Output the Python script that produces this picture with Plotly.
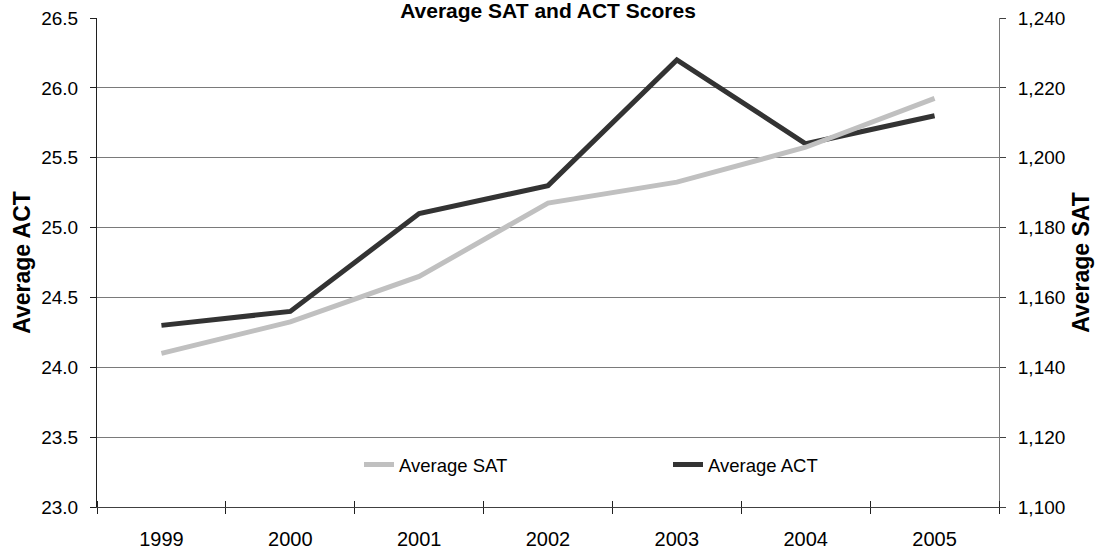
import plotly.graph_objects as go

years = ["1999", "2000", "2001", "2002", "2003", "2004", "2005"]
sat_values = [1144, 1153, 1166, 1187, 1193, 1203, 1217]
act_values = [24.3, 24.4, 25.1, 25.3, 26.2, 25.6, 25.8]
act_ticks = [23.0, 23.5, 24.0, 24.5, 25.0, 25.5, 26.0, 26.5]
sat_ticks = [1100, 1120, 1140, 1160, 1180, 1200, 1220, 1240]

FONT = "Liberation Sans, Arial, sans-serif"

fig = go.Figure()
fig.add_trace(go.Scatter(
    x=years, y=sat_values, name="Average SAT", mode="lines",
    line=dict(color="#c0c0c0", width=5), yaxis="y2",
))
fig.add_trace(go.Scatter(
    x=years, y=act_values, name="Average ACT", mode="lines",
    line=dict(color="#333333", width=5), yaxis="y",
))
# invisible helper so the overlay axis (upper half of the crossing ticks) is drawn
fig.add_trace(go.Scatter(
    x=years, y=act_values, xaxis="x2", yaxis="y", mode="none",
    showlegend=False, hoverinfo="skip",
))

fig.update_layout(
    width=1095, height=553,
    margin=dict(l=97, r=96, t=18, b=46),
    paper_bgcolor="white", plot_bgcolor="white",
    font=dict(family=FONT, color="black", size=19),
    title=dict(text="<b>Average SAT and ACT Scores</b>", x=(97 + 999) / 2 / 1095, xanchor="center",
               xref="container", yref="container", y=1 - 10.5 / 553, yanchor="middle",
               font=dict(size=21, family=FONT, color="black")),
    showlegend=True,
    legend=dict(orientation="h", x=(344 - 97 + 15) / 902, y=(507 - 465) / 489, xref="paper", yref="paper",
                xanchor="left", yanchor="middle", bgcolor="rgba(0,0,0,0)",
                font=dict(size=18.5, family=FONT), entrywidth=264, entrywidthmode="pixels",
                traceorder="normal"),
    xaxis=dict(
        type="category", categoryarray=years, range=[-0.5, 6.5],
        showline=True, linecolor="#404040", linewidth=1,
        ticks="outside", ticklen=6, tickcolor="#202020", tickson="boundaries",
        showgrid=False, ticklabelstandoff=14, automargin=False,
        tickfont=dict(size=20),
    ),
    xaxis2=dict(
        type="category", categoryarray=years, range=[-0.5, 6.5],
        overlaying="x", side="top", anchor="free", position=0,
        ticks="outside", ticklen=6, tickcolor="#202020", tickson="boundaries",
        showticklabels=False, showgrid=False, showline=False, zeroline=False,
        automargin=False,
    ),
    yaxis=dict(
        range=[23.0, 26.5], tickvals=act_ticks, tickformat=".1f",
        showline=True, linecolor="#202020", linewidth=1,
        ticks="outside", ticklen=6, tickcolor="#202020",
        showgrid=True, gridcolor="#7a7a7a", gridwidth=1, zeroline=False,
        title=dict(text="<b>Average ACT</b>", font=dict(size=23), standoff=4),
        ticklabelstandoff=8, automargin=False, tickfont=dict(size=19),
    ),
    yaxis2=dict(
        range=[1100, 1240], tickvals=sat_ticks, tickformat=",d",
        overlaying="y", side="right",
        showline=True, linecolor="#7a7a7a", linewidth=1,
        ticks="outside", ticklen=6, tickcolor="#404040",
        showgrid=False, zeroline=False,
        title=dict(text="<b>Average SAT</b>", font=dict(size=23), standoff=8),
        ticklabelstandoff=8, automargin=False, tickfont=dict(size=19),
    ),
)

fig.write_html(
    "out.html",
    config={"displayModeBar": False},
    post_script="document.body.style.margin='0';document.body.style.overflow='hidden';",
)
